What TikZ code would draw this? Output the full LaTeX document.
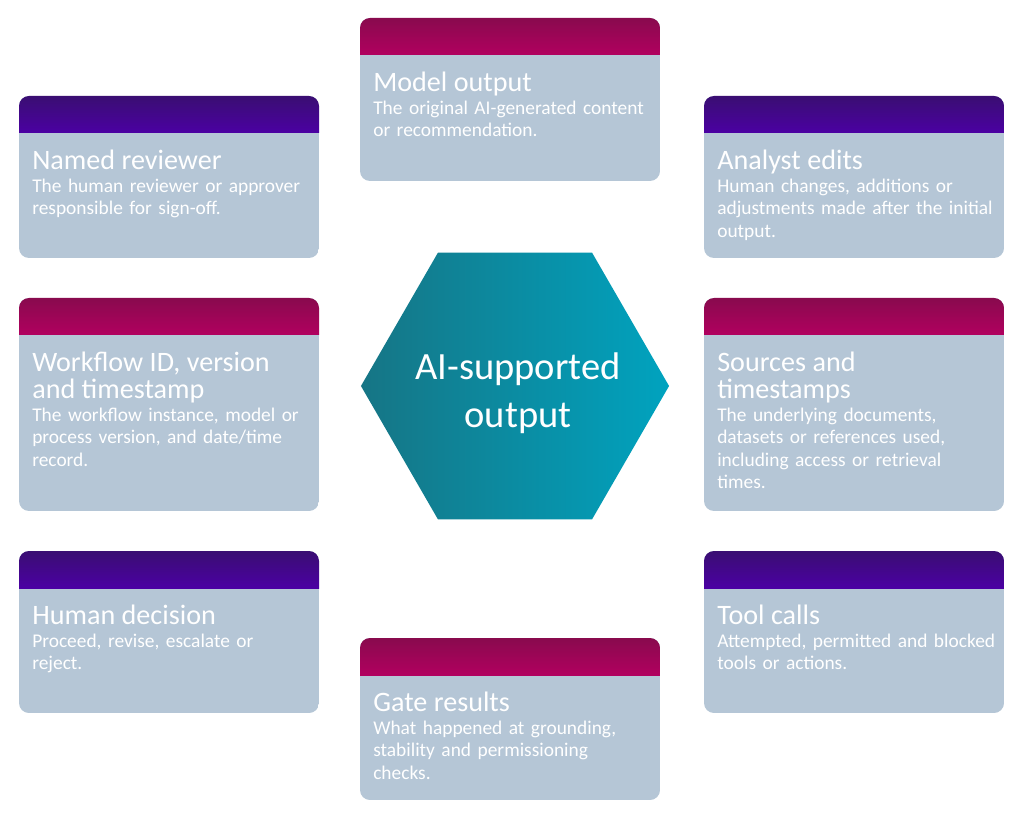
\documentclass[tikz,border=0pt]{standalone}
\usepackage{fontspec}
\setmainfont{Carlito}
\usetikzlibrary{shapes.geometric}

\definecolor{magtop}{HTML}{890A4E}
\definecolor{magbot}{HTML}{B1005F}
\definecolor{purtop}{HTML}{3A0E72}
\definecolor{purbot}{HTML}{4B00A3}
\definecolor{cardgrey}{HTML}{B5C6D6}
\definecolor{hexleft}{HTML}{167585}
\definecolor{hexright}{HTML}{00A3BF}

\newcommand{\cardtitle}[1]{{\fontsize{20}{19}\selectfont #1\par}}

% card background: x, y, height, header colour (mag or pur)
\newcommand{\cardbg}[4]{%
  \begin{scope}
    \clip[rounded corners=0.25cm] (#1,#2) rectangle ++(300,#3);
    \fill[cardgrey] (#1,#2) rectangle ++(300,#3);
    \shade[top color=#4top, bottom color=#4bot] (#1,#2) rectangle ++(300,37);
  \end{scope}}

\tikzset{
  cardtext/.style={anchor=north west, inner sep=0pt, text width=7cm,
    align=left, text=white, font=\fontsize{13.8}{16}\selectfont},
  hexnode/.style={regular polygon, regular polygon sides=6,
    minimum size=7.7cm, inner sep=0pt, left color=hexleft,
    right color=hexright},
  hextext/.style={text=white, align=center,
    font=\fontsize{27.4}{34}\selectfont}
}

\begin{document}
\begin{tikzpicture}[x=0.025cm, y=-0.025cm]

\fill[white] (0,0) rectangle (1024,826);
\useasboundingbox (0,0) rectangle (1024,826);

% centre
\node[hexnode] (hub) at (515,386) {};
\node[hextext] (hublabel) at (518,393) {AI-supported\\output};

% top and bottom
\cardbg{360}{18}{163}{mag}
\node[cardtext] (model) at (373,72)
  {\cardtitle{Model output}The original AI-generated content\\or recommendation.};

\cardbg{360}{638}{162}{mag}
\node[cardtext] (gate) at (373,692)
  {\cardtitle{Gate results}What happened at grounding,\\stability and permissioning\\checks.};

% left column
\cardbg{19}{96}{162}{pur}
\node[cardtext] (reviewer) at (32,150)
  {\cardtitle{Named reviewer}The human reviewer or approver\\responsible for sign-off.};

\cardbg{19}{298}{213}{mag}
\node[cardtext] (workflow) at (32,352)
  {\cardtitle{Workflow ID, version\\and timestamp}The workflow instance, model or\\process version, and date/time\\record.};

\cardbg{19}{551}{162}{pur}
\node[cardtext] (decision) at (32,605)
  {\cardtitle{Human decision}Proceed, revise, escalate or\\reject.};

% right column
\cardbg{704}{96}{162}{pur}
\node[cardtext] (edits) at (717,150)
  {\cardtitle{Analyst edits}Human changes, additions or\\adjustments made after the initial\\output.};

\cardbg{704}{298}{213}{mag}
\node[cardtext] (sources) at (717,352)
  {\cardtitle{Sources and\\timestamps}The underlying documents,\\datasets or references used,\\including access or retrieval\\times.};

\cardbg{704}{551}{162}{pur}
\node[cardtext] (tools) at (717,605)
  {\cardtitle{Tool calls}Attempted, permitted and blocked\\tools or actions.};

\end{tikzpicture}
\end{document}
